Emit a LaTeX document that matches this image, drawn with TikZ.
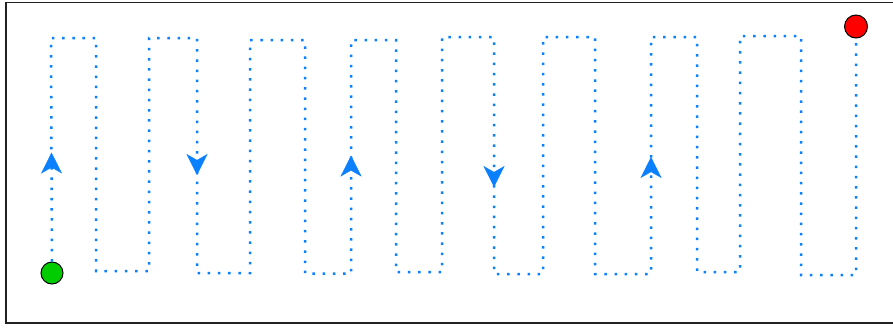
\documentclass[tikz,border=0pt]{standalone}
\usepackage{tikz}
\usetikzlibrary{arrows.meta, decorations.markings}
\definecolor{routeblue}{HTML}{0A80FF}
\definecolor{startgreen}{HTML}{00CC00}
\definecolor{goalred}{HTML}{FF0000}
\definecolor{framegray}{HTML}{222222}

\begin{document}
\begin{tikzpicture}[
    x=1pt, y=-1pt,
    frame/.style={
        draw=framegray,
        line width=1.5pt
    },
    marker/.style={
        circle,
        draw=black,
        line width=1pt,
        minimum size=22pt,
        inner sep=0pt
    },
    route/.style={
        draw=routeblue,
        line width=2.5pt,
        dash pattern=on 2.5pt off 7.7pt
    },
    flow/.style={
        postaction={decorate},
        decoration={markings,
            mark=at position #1 with {\arrow[routeblue]{Stealth[length=21pt,width=21pt,inset=6pt]}}}
    }
]

% Page and frame
\clip (0,0) rectangle (893,327);
\draw[frame] (6,2.5) rectangle (900,323);

% Start and goal
\node[marker, fill=startgreen] (start) at (52,273) {};
\node[marker, fill=goalred, minimum size=23pt] (goal) at (856,26.5) {};

% Corners, columns 1--4
\coordinate (c1) at (51,38);
\coordinate (c2) at (96,38);
\coordinate (c3) at (96,271);
\coordinate (c4) at (149,271);
\coordinate (c5) at (149,38);
\coordinate (c6) at (197,38);
\coordinate (c7) at (197,273);
\coordinate (c8) at (250,273);

% Corners, columns 5--8
\coordinate (c9) at (250,40);
\coordinate (c10) at (305,40);
\coordinate (c11) at (305,273.5);
\coordinate (c12) at (351,273.5);
\coordinate (c13) at (351,40);
\coordinate (c14) at (396,40);
\coordinate (c15) at (396,272);
\coordinate (c16) at (442,272);

% Corners, columns 9--12
\coordinate (c17) at (442,37);
\coordinate (c18) at (494,37);
\coordinate (c19) at (494,274);
\coordinate (c20) at (543,274);
\coordinate (c21) at (543,37);
\coordinate (c22) at (595,37);
\coordinate (c23) at (595,274);
\coordinate (c24) at (651,274);

% Corners, columns 13--17
\coordinate (c25) at (651,37);
\coordinate (c26) at (697,37);
\coordinate (c27) at (697,272);
\coordinate (c28) at (740,272);
\coordinate (c29) at (740,36);
\coordinate (c30) at (801,36);
\coordinate (c31) at (801,275);
\coordinate (c32) at (856,275);

% Route
\draw[route] (start) -- (c1) -- (c2) -- (c3) -- (c4) -- (c5) -- (c6) -- (c7) -- (c8)
    -- (c9) -- (c10) -- (c11) -- (c12) -- (c13) -- (c14) -- (c15) -- (c16)
    -- (c17) -- (c18) -- (c19) -- (c20) -- (c21) -- (c22) -- (c23) -- (c24)
    -- (c25) -- (c26) -- (c27) -- (c28) -- (c29) -- (c30) -- (c31) -- (c32) -- (goal);

% Direction arrows
\path[flow=109pt] (start) -- (c1);
\path[flow=137pt] (c6) -- (c7);
\path[flow=118pt] (c12) -- (c13);
\path[flow=150pt] (c18) -- (c19);
\path[flow=117pt] (c24) -- (c25);

\end{tikzpicture}
\end{document}
